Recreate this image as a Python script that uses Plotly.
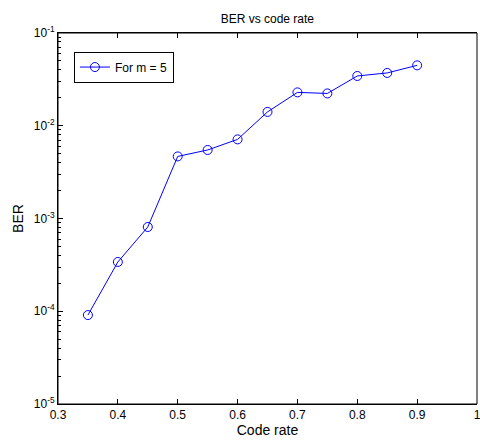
import plotly.graph_objects as go

code_rate = [0.35, 0.40, 0.45, 0.50, 0.55, 0.60, 0.65, 0.70, 0.75, 0.80, 0.85, 0.90]
ber = [9.1e-5, 3.4e-4, 8.1e-4, 4.67e-3, 5.48e-3, 7.13e-3, 0.0141, 0.0229, 0.0223, 0.0344, 0.0371, 0.0448]
series_name = "For m = 5"
x_ticks = [0.3, 0.4, 0.5, 0.6, 0.7, 0.8, 0.9, 1]
x_ticklabels = ["0.3", "0.4", "0.5", "0.6", "0.7", "0.8", "0.9", "1"]
y_ticks = [1e-5, 1e-4, 1e-3, 1e-2, 1e-1]
y_ticklabels = ["10<sup>-5</sup>", "10<sup>-4</sup>", "10<sup>-3</sup>", "10<sup>-2</sup>", "10<sup>-1</sup>"]
y_minor = [m * 10.0 ** e for e in range(-5, -1) for m in range(2, 10)]

fig = go.Figure()
fig.add_trace(go.Scatter(
    x=code_rate, y=ber, mode="lines+markers", name=series_name,
    line=dict(color="#0000ff", width=1),
    marker=dict(symbol="circle-open", size=9, color="#0000ff", line=dict(width=1)),
))

font = dict(family="Liberation Sans, Arial, sans-serif", size=12, color="#000")
yaxis_common = dict(
    type="log", range=[-5, -1], tickvals=y_ticks,
    ticks="inside", ticklen=5, tickcolor="black",
    showline=True, linecolor="black", linewidth=1, showgrid=False, zeroline=False,
    automargin=False,
    minor=dict(tickvals=y_minor, ticks="inside", ticklen=3, tickcolor="black", showgrid=False),
)
fig.update_layout(
    width=480, height=441,
    margin=dict(l=58, r=3, t=33, b=37, autoexpand=False),
    paper_bgcolor="white", plot_bgcolor="white",
    font=font,
    title=dict(text="BER vs code rate", x=0.557, xanchor="center", y=0.958, yanchor="middle",
               font=dict(size=12)),
    showlegend=True,
    legend=dict(x=0.038, y=0.95, xanchor="left", yanchor="top",
                bordercolor="black", borderwidth=1, bgcolor="white",
                font=dict(size=12), itemwidth=30),
    xaxis=dict(
        range=[0.3, 1], tickvals=x_ticks, ticktext=x_ticklabels,
        ticks="inside", ticklen=5, tickcolor="black", mirror="ticks",
        showline=True, linecolor="black", linewidth=1, showgrid=False, zeroline=False,
        automargin=False, ticklabeloverflow="allow",
        title=dict(text="Code rate", standoff=2), tickfont=dict(size=12),
    ),
    yaxis=dict(
        **yaxis_common, ticktext=y_ticklabels, ticklabeloverflow="allow",
        title=dict(text="BER", standoff=6), tickfont=dict(size=12),
    ),
    yaxis2=dict(
        **yaxis_common, overlaying="y", side="right", showticklabels=False,
    ),
)
fig.add_shape(type="rect", xref="paper", yref="paper", x0=0, y0=0, x1=1, y1=1,
              line=dict(color="black", width=1), fillcolor="rgba(0,0,0,0)", layer="above")

fig.write_html(
    "out.html",
    config={"responsive": False, "displayModeBar": False},
    default_width="480px", default_height="441px",
    post_script=("document.documentElement.style.overflow='hidden';"
                 "document.body.style.margin='0';document.body.style.overflow='hidden';"),
)
